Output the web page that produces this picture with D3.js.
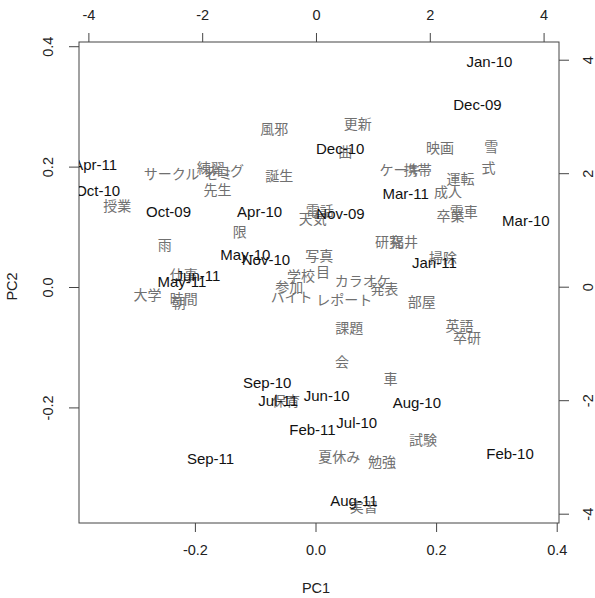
<!DOCTYPE html>
<html>
<head>
<meta charset="utf-8">
<script src="https://cdn.jsdelivr.net/npm/d3@7"></script>
<style>
  body { margin: 0; background: #fff; }
  svg { display: block; }
</style>
</head>
<body>
<div id="chart"></div>
<script>
// months: scores, on the PC1 / PC2 scale (bottom and left axes)
var months = ["Jan-10","Dec-09","Dec-10","Mar-11","Nov-09","Mar-10","Apr-11","Oct-10",
  "Oct-09","Apr-10","May-10","Nov-10","Jun-11","May-11","Jan-11","Sep-10",
  "Jul-11","Jun-10","Aug-10","Jul-10","Feb-11","Sep-11","Feb-10","Aug-11"]
var monthPC1 = [0.2885,0.2686,0.0410,0.1495,0.0415,0.3488,-0.3654,-0.3613,
  -0.2437,-0.0927,-0.1163,-0.0822,-0.1949,-0.2214,0.1972,-0.0802,
  -0.0618,0.0186,0.1681,0.0684,-0.0050,-0.1741,0.3226,0.0636]
var monthPC2 = [0.3743,0.3040,0.2304,0.1561,0.1213,0.1113,0.2027,0.1600,
  0.1262,0.1251,0.0532,0.0460,0.0183,0.0088,0.0410,-0.1590,
  -0.1877,-0.1806,-0.1922,-0.2254,-0.2375,-0.2846,-0.2762,-0.3550]

// words: loadings, on the secondary scale (top and right axes)
var words = ["風邪","サークル","練習","ブログ","ゼミ","先生","誕生","授業","限","雨",
  "天気","電話","写真","学校","目","参加","バイト","レポート","カラオケ","発表",
  "研究","福井","掃除","部屋","課題","英語","卒研","会","車","保育",
  "試験","夏休み","勉強","実習","更新","曲","映画","雪","式","ケーキ",
  "携帯","運転","成人","卒業","電車","大学","時間","朝","仕事"]
var wordX = [-0.734,-2.539,-1.849,-1.632,-1.708,-1.731,-0.646,-3.491,-1.338,-2.658,
  -0.058,0.065,0.058,-0.264,0.123,-0.470,-0.428,0.498,0.822,1.202,
  1.285,1.549,2.231,1.861,0.586,2.523,2.653,0.458,1.308,-0.528,
  1.879,0.410,1.162,0.840,0.734,0.516,2.178,3.081,3.033,1.484,
  1.790,2.540,2.319,2.363,2.597,-2.963,-2.324,-2.412,-2.324]
var wordY = [2.794,2.012,2.113,2.060,2.002,1.720,1.972,1.444,0.974,0.757,
  1.209,1.356,0.563,0.211,0.269,0.005,-0.171,-0.217,0.123,-0.023,
  0.798,0.798,0.528,-0.259,-0.710,-0.669,-0.886,-1.315,-1.607,-1.989,
  -2.681,-2.988,-3.063,-3.868,2.882,2.394,2.470,2.482,2.118,2.077,
  2.077,1.914,1.678,1.268,1.326,-0.123,-0.194,-0.264,0.229]

var pcTicks = [-0.2, 0.0, 0.2, 0.4]
var pcTickLabels = ["-0.2","0.0","0.2","0.4"]
var secTicks = [-4, -2, 0, 2, 4]
var secTickLabels = ["-4","-2","0","2","4"]

var width = 595, height = 598
var box = { left: 79, right: 559, top: 42, bottom: 523 }

var svg = d3.select("#chart").append("svg")
    .attr("width", width)
    .attr("height", height)

var x = d3.scaleLinear().domain([-0.3922, 0.4038]).range([box.left, box.right])
var y = d3.scaleLinear().domain([-0.392, 0.407]).range([box.bottom, box.top])
var x2 = d3.scaleLinear().domain([-4.165, 4.271]).range([box.left, box.right])
var y2 = d3.scaleLinear().domain([-4.164, 4.312]).range([box.bottom, box.top])

var axisColor = "#444"
var tickFont = "14.5px 'Liberation Sans', Arial, sans-serif"

function styleAxis(g) {
    g.select(".domain").remove()
    g.selectAll(".tick line").attr("stroke", axisColor)
    g.selectAll(".tick text")
        .attr("fill", "#222")
        .style("font", tickFont)
        .attr("text-anchor", "middle")
        .attr("dominant-baseline", "central")
        .attr("dy", null)
}

// bottom
svg.append("g")
    .attr("transform", "translate(0," + box.bottom + ")")
    .call(d3.axisBottom(x).tickValues(pcTicks).tickSize(9)
        .tickFormat(function(d, i){ return pcTickLabels[i] }))
    .call(styleAxis)
    .selectAll(".tick text").attr("y", 27)

// top
svg.append("g")
    .attr("transform", "translate(0," + box.top + ")")
    .call(d3.axisTop(x2).tickValues(secTicks).tickSize(9)
        .tickFormat(function(d, i){ return secTickLabels[i] }))
    .call(styleAxis)
    .selectAll(".tick text").attr("y", -27)

// left
svg.append("g")
    .attr("transform", "translate(" + box.left + ",0)")
    .call(d3.axisLeft(y).tickValues(pcTicks).tickSize(10)
        .tickFormat(function(d, i){ return pcTickLabels[i] }))
    .call(styleAxis)
    .selectAll(".tick text")
    .attr("x", null)
    .attr("transform", "translate(-31,0) rotate(-90)")

// right
svg.append("g")
    .attr("transform", "translate(" + box.right + ",0)")
    .call(d3.axisRight(y2).tickValues(secTicks).tickSize(10)
        .tickFormat(function(d, i){ return secTickLabels[i] }))
    .call(styleAxis)
    .selectAll(".tick text")
    .attr("x", null)
    .attr("transform", "translate(29,0) rotate(-90)")

// box
svg.append("rect")
    .attr("x", box.left)
    .attr("y", box.top)
    .attr("width", box.right - box.left)
    .attr("height", box.bottom - box.top)
    .attr("fill", "none")
    .attr("stroke", axisColor)
    .attr("stroke-width", 1)

// axis titles
svg.append("text")
    .attr("x", (box.left + box.right) / 2 - 3)
    .attr("y", 588)
    .attr("text-anchor", "middle")
    .attr("dominant-baseline", "central")
    .attr("fill", "#222")
    .style("font", tickFont)
    .text("PC1")

svg.append("text")
    .attr("transform", "translate(12," + ((box.top + box.bottom) / 2 + 4) + ") rotate(-90)")
    .attr("text-anchor", "middle")
    .attr("dominant-baseline", "central")
    .attr("fill", "#222")
    .style("font", tickFont)
    .text("PC2")

svg.append("clipPath").attr("id", "plotClip")
    .append("rect")
    .attr("x", box.left).attr("y", box.top)
    .attr("width", box.right - box.left).attr("height", box.bottom - box.top)

var plot = svg.append("g").attr("clip-path", "url(#plotClip)")

plot.selectAll(".word")
    .data(words)
    .enter().append("text")
    .attr("class", "word")
    .attr("x", function(d, i){ return x2(wordX[i]) })
    .attr("y", function(d, i){ return y2(wordY[i]) })
    .attr("text-anchor", "middle")
    .attr("dominant-baseline", "central")
    .attr("fill", "#707070")
    .style("font", "14px 'Noto Sans CJK JP', sans-serif")
    .text(function(d){ return d })

plot.selectAll(".month")
    .data(months)
    .enter().append("text")
    .attr("class", "month")
    .attr("x", function(d, i){ return x(monthPC1[i]) })
    .attr("y", function(d, i){ return y(monthPC2[i]) })
    .attr("text-anchor", "middle")
    .attr("dominant-baseline", "central")
    .attr("fill", "#111")
    .style("font", "15px 'Liberation Sans', Arial, sans-serif")
    .text(function(d){ return d })
</script>
</body>
</html>
